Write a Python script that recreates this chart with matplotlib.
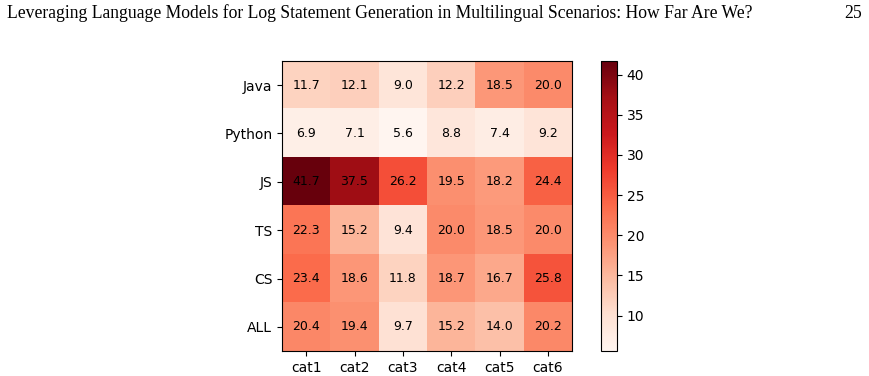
import numpy as np
import matplotlib
matplotlib.use("Agg")
import matplotlib.pyplot as plt

rows = ["Java", "Python", "JS", "TS", "CS", "ALL"]
cols = ["cat1", "cat2", "cat3", "cat4", "cat5", "cat6"]
java = [11.7, 12.1, 9.0, 12.2, 18.5, 20.0]
python = [6.9, 7.1, 5.6, 8.8, 7.4, 9.2]
js = [41.7, 37.5, 26.2, 19.5, 18.2, 24.4]
ts = [22.3, 15.2, 9.4, 20.0, 18.5, 20.0]
cs = [23.4, 18.6, 11.8, 18.7, 16.7, 25.8]
all_ = [20.4, 19.4, 9.7, 15.2, 14.0, 20.2]

title = "Leveraging Language Models for Log Statement Generation in Multilingual Scenarios: How Far Are We?"
page = "25"

data = np.array([java, python, js, ts, cs, all_])

fig = plt.figure(figsize=(8.69, 3.76), dpi=100)
ax = fig.add_axes([282 / 869, 1 - 351 / 376, 290 / 869, 290 / 376])
cax = fig.add_axes([601 / 869, 1 - 351 / 376, 16 / 869, 290 / 376])

im = ax.imshow(data, cmap="Reds", aspect="auto")
ax.set_xticks(range(len(cols)))
ax.set_xticklabels(cols)
ax.set_yticks(range(len(rows)))
ax.set_yticklabels(rows)
for i in range(len(rows)):
    for j in range(len(cols)):
        ax.text(j, i, "%.1f" % data[i, j], ha="center", va="center", color="black", fontsize=9)

fig.colorbar(im, cax=cax)

fig.text(7 / 869, 1 - 13 / 376, title, family="Liberation Serif", fontsize=12.7, va="center", ha="left")
fig.text(862 / 869, 1 - 13 / 376, page, family="Liberation Serif", fontsize=12.7, va="center", ha="right")

fig.savefig("out.png", dpi=100)
